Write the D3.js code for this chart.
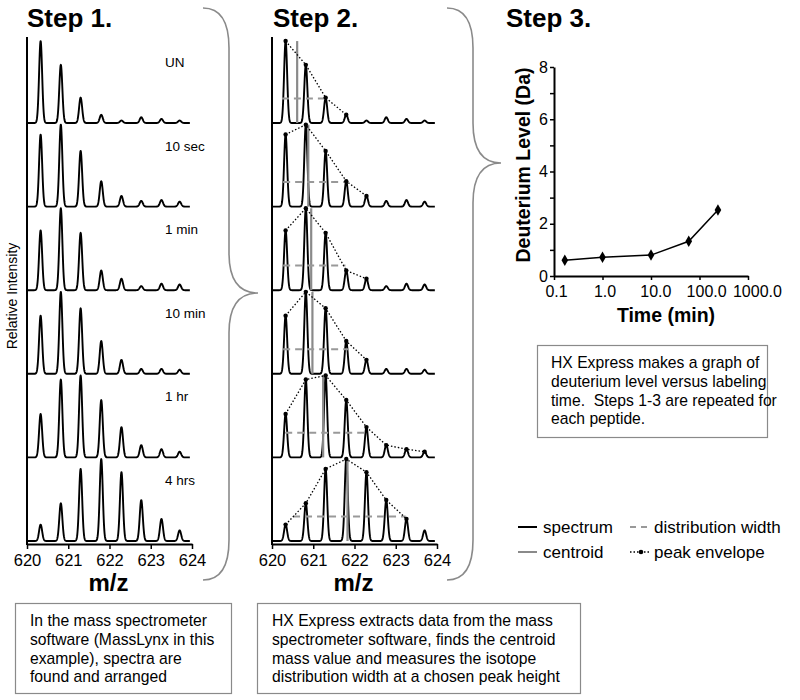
<!DOCTYPE html>
<html><head><meta charset="utf-8">
<script src="https://cdn.jsdelivr.net/npm/d3@7"></script>
<style>
body{margin:0;background:#fff;}
svg{display:block;font-family:"Liberation Sans",Arial,sans-serif;}
</style></head>
<body><svg id="c" width="800" height="700"></svg>
<script>
// ---------- data ----------
const mzPeaks = [620.33, 620.82, 621.30, 621.80, 622.29, 622.77, 623.26, 623.70];
const spectrumLabels = ["UN", "10 sec", "1 min", "10 min", "1 hr", "4 hrs"];
const intUN  = [1.00, 0.71, 0.31, 0.10, 0.03, 0.07, 0.05, 0.03];
const int10s = [0.88, 1.00, 0.68, 0.31, 0.13, 0.07, 0.08, 0.06];
const int1m  = [0.73, 1.00, 0.70, 0.24, 0.14, 0.05, 0.08, 0.07];
const int10m = [0.71, 1.00, 0.80, 0.40, 0.17, 0.06, 0.06, 0.05];
const int1h  = [0.53, 0.95, 1.00, 0.70, 0.37, 0.15, 0.10, 0.07];
const int4h  = [0.20, 0.46, 0.88, 1.00, 0.84, 0.50, 0.27, 0.13];
const intensities = [intUN, int10s, int1m, int10m, int1h, int4h];
const centroidMz   = [620.61, 620.88, 620.95, 620.98, 621.24, 621.83];
const widthStartMz = [620.24, 620.27, 620.27, 620.27, 620.32, 620.51];
const widthEndMz   = [621.29, 621.78, 621.78, 621.85, 622.27, 623.24];
const widthLevel = 0.30;
const envelopeCount = [4, 5, 5, 5, 8, 7];
const mzTicks = [620, 621, 622, 623, 624];

const timeMin   = [0.167, 1, 10, 60, 240];
const deutLevel = [0.60, 0.72, 0.80, 1.33, 2.53];
const timeTicks = [0.1, 1, 10, 100, 1000];
const timeTickLabels = ["0.1", "1.0", "10.0", "100.0", "1000.0"];
const deutTicks = [0, 1, 2, 3, 4, 5, 6, 7, 8];

const box1Lines = ["In the mass spectrometer", "software (MassLynx in this", "example), spectra are", "found and arranged"];
const box2Lines = ["HX Express extracts data from the mass", "spectrometer software, finds the centroid", "mass value and measures the isotope", "distribution width at a chosen peak height"];
const box3Lines = ["HX Express makes a graph of", "deuterium level versus labeling", "time.  Steps 1-3 are repeated for", "each peptide."];

// ---------- setup ----------
const svg = d3.select("#c");
const GRAY = "#8a8a8a";
const sigma = 0.037;
const peakScale = 0.98;
const nSpec = spectrumLabels.length;
const yS = d3.scaleLinear().domain([0, 6]).range([541, 39.4]);
const mzGrid = d3.range(620.0, 623.95, 0.004);

function curve(ints) {
  return mzGrid.map(m => {
    let v = 0;
    for (let j = 0; j < mzPeaks.length; j++) {
      const d = (m - mzPeaks[j]) / sigma;
      v += ints[j] * Math.exp(-0.5 * d * d);
    }
    return [m, v];
  });
}

function stepTitle(x, t) {
  svg.append("text").attr("x", x).attr("y", 27).attr("font-size", 26)
    .attr("font-weight", "bold").text(t);
}

function spectraPanel(x0, x1, withAnalysis, withLabels) {
  const x = d3.scaleLinear().domain([620, 624]).range([x0, x1]);
  const g = svg.append("g");
  g.append("line").attr("x1", x0).attr("x2", x0).attr("y1", 37).attr("y2", 545)
    .attr("stroke", "#000").attr("stroke-width", 2);
  intensities.forEach((ints, i) => {
    const base = nSpec - 1 - i;
    const line = d3.line().x(d => x(d[0])).y(d => yS(base + d[1] * peakScale));
    g.append("path").attr("d", line(curve(ints))).attr("fill", "none")
      .attr("stroke", "#000").attr("stroke-width", 1.9).attr("stroke-linejoin", "round");
    if (withLabels) {
      g.append("text").attr("x", x0 + 138).attr("y", yS(base) - 56)
        .attr("font-size", 13.5).text(spectrumLabels[i]);
    }
    if (withAnalysis) {
      g.append("line").attr("x1", x(centroidMz[i])).attr("x2", x(centroidMz[i]))
        .attr("y1", yS(base)).attr("y2", yS(base + peakScale))
        .attr("stroke", GRAY).attr("stroke-width", 2.2);
      g.append("line").attr("x1", x(widthStartMz[i])).attr("x2", x(widthEndMz[i]))
        .attr("y1", yS(base + widthLevel * peakScale)).attr("y2", yS(base + widthLevel * peakScale))
        .attr("stroke", "#999").attr("stroke-width", 2).attr("stroke-dasharray", "7,5");
      const pts = mzPeaks.slice(0, envelopeCount[i]).map((m, j) => [x(m), yS(base + ints[j] * peakScale)]);
      g.append("path").attr("d", d3.line()(pts)).attr("fill", "none")
        .attr("stroke", "#000").attr("stroke-width", 1.3).attr("stroke-dasharray", "1.5,2");
      g.selectAll(null).data(pts).enter().append("circle")
        .attr("cx", d => d[0]).attr("cy", d => d[1]).attr("r", 2.2).attr("fill", "#000");
    }
  });
  const ax = g.append("g").attr("transform", "translate(0,544)")
    .call(d3.axisBottom(x).tickValues(mzTicks).tickFormat(d3.format("d")).tickSize(5).tickSizeOuter(0).tickPadding(5));
  ax.select(".domain").attr("stroke-width", 2);
  ax.selectAll(".tick line").attr("stroke-width", 1.5);
  ax.selectAll("text").attr("font-size", 16.5).attr("font-family", "Liberation Sans, Arial, sans-serif").attr("fill", "#000");
  g.append("text").attr("x", (x0 + x1) / 2 - 1).attr("y", 591).attr("text-anchor", "middle")
    .attr("font-size", 24).attr("font-weight", "bold").text("m/z");
}

stepTitle(27, "Step 1.");
stepTitle(273, "Step 2.");
stepTitle(506, "Step 3.");

spectraPanel(27, 192, false, true);
spectraPanel(272, 437, true, false);

svg.append("text").attr("transform", "translate(17,296) rotate(-90)")
  .attr("text-anchor", "middle").attr("font-size", 14).text("Relative Intensity");

// ---------- braces ----------
function brace(xEnd, xMid, xTip, yTop, yTip, yBot) {
  const r = 40, r2 = 40;
  const p = d3.path();
  p.moveTo(xEnd, yTop);
  p.quadraticCurveTo(xMid, yTop, xMid, yTop + r);
  p.lineTo(xMid, yTip - r2);
  p.quadraticCurveTo(xMid, yTip, xTip, yTip);
  p.quadraticCurveTo(xMid, yTip, xMid, yTip + r2);
  p.lineTo(xMid, yBot - r);
  p.quadraticCurveTo(xMid, yBot, xEnd, yBot);
  svg.append("path").attr("d", p.toString()).attr("fill", "none")
    .attr("stroke", GRAY).attr("stroke-width", 1.6);
}
brace(203, 229, 258, 8, 293, 580);
brace(447, 473, 501, 8, 163, 580);

// ---------- step 3 ----------
const xT = d3.scaleLog().domain([0.1, 1000]).range([554, 748]);
const yD = d3.scaleLinear().domain([0, 8]).range([276, 67]);
const g3 = svg.append("g");
const ay = g3.append("g").attr("transform", "translate(554,0)")
  .call(d3.axisLeft(yD).tickValues(deutTicks).tickSize(4).tickSizeOuter(0).tickPadding(2)
    .tickFormat(d => d % 2 === 0 ? d : ""));
const axx = g3.append("g").attr("transform", "translate(0,276)")
  .call(d3.axisBottom(xT).tickValues(timeTicks).tickSize(4).tickSizeOuter(0).tickPadding(6)
    .tickFormat((d, i) => timeTickLabels[i]));
[ay, axx].forEach(a => {
  a.select(".domain").attr("stroke-width", 2);
  a.selectAll(".tick line").attr("stroke-width", 1.5);
  a.selectAll("text").attr("font-size", 16).attr("font-family", "Liberation Sans, Arial, sans-serif").attr("fill", "#000");
});
axx.selectAll("text").attr("dx", (d, i) => (timeTickLabels[i].length - 3) * 2.3 + 2);

const pts3 = timeMin.map((t, i) => [t, deutLevel[i]]);
g3.append("path").datum(pts3)
  .attr("d", d3.line().x(d => xT(d[0])).y(d => yD(d[1])))
  .attr("fill", "none").attr("stroke", "#000").attr("stroke-width", 1.5);
g3.selectAll(null).data(pts3).enter().append("path")
  .attr("transform", d => `translate(${xT(d[0])},${yD(d[1])})`)
  .attr("d", d3.symbol(d3.symbolDiamond, 38)).attr("fill", "#000");

g3.append("text").attr("transform", "translate(530,165) rotate(-90)").attr("text-anchor", "middle")
  .attr("font-size", 19.5).attr("font-weight", "bold").text("Deuterium Level (Da)");
g3.append("text").attr("x", 666).attr("y", 322).attr("text-anchor", "middle")
  .attr("font-size", 19.5).attr("font-weight", "bold").text("Time (min)");

// ---------- text boxes ----------
function textBox(x, y, w, h, lines, tx, ty) {
  svg.append("rect").attr("x", x + 0.5).attr("y", y + 0.5).attr("width", w).attr("height", h)
    .attr("fill", "#fff").attr("stroke", GRAY).attr("stroke-width", 1.2);
  svg.append("g").selectAll("text").data(lines).enter().append("text")
    .attr("x", tx).attr("y", (d, i) => ty + i * 18.8).attr("font-size", 15.7)
    .style("white-space", "pre").text(d => d);
}
textBox(537, 345, 230, 92, box3Lines, 551, 368);
textBox(15, 603, 216, 90, box1Lines, 30, 626);
textBox(257, 603, 323, 90, box2Lines, 272, 626);

// ---------- legend ----------
const lg = svg.append("g").attr("font-size", 17);
lg.append("line").attr("x1", 518).attr("x2", 537).attr("y1", 527).attr("y2", 527).attr("stroke", "#000").attr("stroke-width", 2);
lg.append("text").attr("x", 543).attr("y", 533).text("spectrum");
lg.append("line").attr("x1", 518).attr("x2", 537).attr("y1", 552).attr("y2", 552).attr("stroke", GRAY).attr("stroke-width", 2);
lg.append("text").attr("x", 543).attr("y", 558).text("centroid");
lg.append("line").attr("x1", 630).attr("x2", 651).attr("y1", 527).attr("y2", 527).attr("stroke", "#999").attr("stroke-width", 2).attr("stroke-dasharray", "6,5");
lg.append("text").attr("x", 654).attr("y", 533).text("distribution width");
lg.append("line").attr("x1", 630).attr("x2", 651).attr("y1", 552).attr("y2", 552).attr("stroke", "#000").attr("stroke-width", 1.3).attr("stroke-dasharray", "1.5,2");
lg.append("circle").attr("cx", 641).attr("cy", 552).attr("r", 2.3).attr("fill", "#000");
lg.append("text").attr("x", 654).attr("y", 558).text("peak envelope");
</script></body></html>
